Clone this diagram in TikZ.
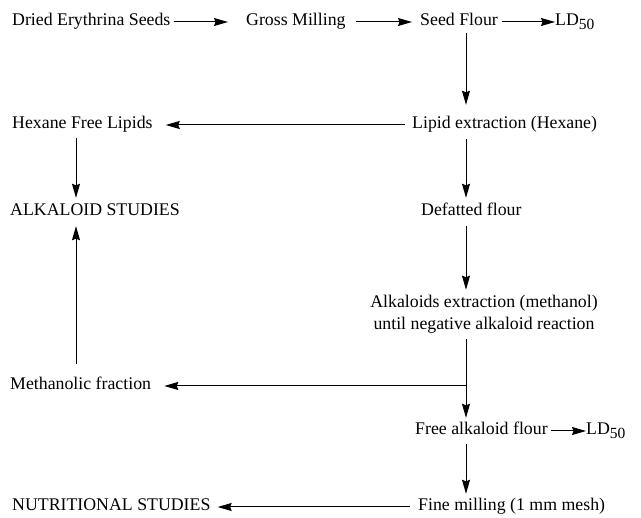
\documentclass[tikz,border=0pt]{standalone}
\usepackage{fontspec}
\setmainfont{Liberation Serif}
\usetikzlibrary{arrows.meta}
\newcommand{\ldfifty}{LD\raisebox{-0.45ex}{\fontsize{15.5}{16}\selectfont 50}}
\begin{document}
\begin{tikzpicture}[x=1pt,y=-1pt,
  lbl/.style={inner sep=0pt, anchor=west, text height=12pt, text depth=4pt, font=\fontsize{17.8}{21}\selectfont},
  arr/.style={-{Stealth[length=14pt,width=8pt,inset=1.5pt]}, line width=1pt},
  ln/.style={line width=1pt}]
\useasboundingbox (0,0) rectangle (641,518);
% column coordinates
\coordinate (cr) at (466,0);
\coordinate (cl) at (76,0);
% row 1
\node[lbl] (dry) at (12,22) {Dried Erythrina Seeds};
\node[lbl] (gm) at (246,22) {Gross Milling};
\node[lbl] (sf) at (420,22) {Seed Flour};
\node[lbl] (ldA) at (555,22) {\ldfifty};
% row 2
\node[lbl] (hfl) at (12,125) {Hexane Free Lipids};
\node[lbl] (lip) at (412,125) {Lipid extraction (Hexane)};
% row 3
\node[lbl] (alk) at (10,212) {ALKALOID STUDIES};
\node[lbl] (def) at (421,212) {Defatted flour};
% row 4
\node[inner sep=0pt, anchor=center, align=center, font=\fontsize{17.8}{22}\selectfont] (ext) at (484,314) {Alkaloids extraction (methanol)\\until negative alkaloid reaction};
% row 5
\node[lbl] (met) at (10,386) {Methanolic fraction};
\coordinate (br) at (466,386);
% row 6
\node[lbl] (fre) at (415,431) {Free alkaloid flour};
\node[lbl] (ldB) at (586,431) {\ldfifty};
% row 7
\node[lbl] (nut) at (12,507) {NUTRITIONAL STUDIES};
\node[lbl] (fin) at (418,507) {Fine milling (1 mm mesh)};
% horizontal arrows
\draw[arr, shorten <=3pt, shorten >=18pt] (dry.east) -- (gm.west);
\draw[arr, shorten <=10pt, shorten >=8pt] (gm.east) -- (sf.west);
\draw[arr, shorten <=4pt] (sf.east) -- (ldA.west);
\draw[arr, shorten <=7pt, shorten >=13pt] (lip.west) -- (hfl.east);
\draw[arr, shorten >=13pt] (br) -- (met.east |- br);
\draw[arr, shorten <=3pt] (fre.east) -- (ldB.west);
\draw[arr, shorten <=8pt, shorten >=7pt] (fin.west) -- (nut.east);
% vertical arrows
\draw[arr, shorten <=3pt, shorten >=12pt] (sf.south -| cr) -- (lip.north -| cr);
\draw[arr, shorten <=6pt, shorten >=6pt] (lip.south -| cr) -- (def.north -| cr);
\draw[arr, shorten <=6pt, shorten >=5pt] (def.south -| cr) -- (ext.north -| cr);
\draw[ln, shorten <=6pt] (ext.south -| cr) -- (br);
\draw[arr, shorten >=5pt] (br) -- (fre.north -| cr);
\draw[arr, shorten <=5pt, shorten >=5pt] (fre.south -| cr) -- (fin.north -| cr);
\draw[arr, shorten <=5pt, shorten >=6pt] (hfl.south -| cl) -- (alk.north -| cl);
\draw[arr, shorten <=14pt, shorten >=6pt] (met.north -| cl) -- (alk.south -| cl);
\end{tikzpicture}
\end{document}
